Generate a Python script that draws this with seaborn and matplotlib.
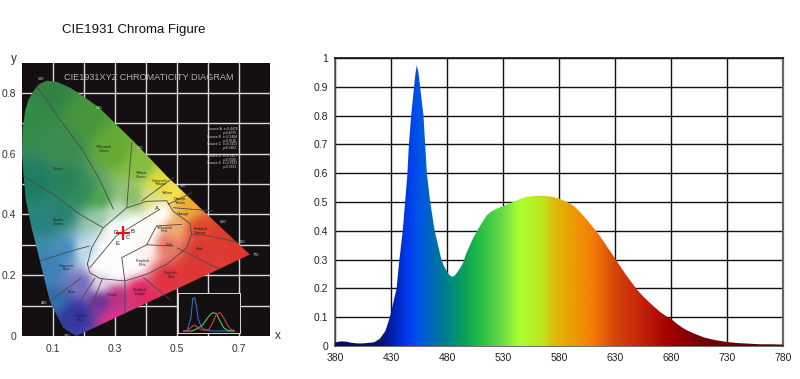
import numpy as np
import pandas as pd
import matplotlib
matplotlib.use("Agg")
import matplotlib.pyplot as plt
from matplotlib.colors import LinearSegmentedColormap
from matplotlib.patches import Polygon
import seaborn as sns

sns.set_style("white")
plt.rcParams['font.family'] = ['Liberation Sans', 'DejaVu Sans']

# ---------- spectrum data ----------
wavelength = [380,385,390,395,400,405,410,415,420,425,429,432,435,437.5,440.5,442.6,444.7,446,448,450.6,451.8,453,454.5,
              456,459,460.5,462,465,469,475,477,480,482,484.7,487,489,492,494.5,497,500.5,503,506.5,510,515.5,520,525,530,539,545,551,558,566,573,580,590,
              595,600,605,610,615,620,625,630,635,640,645,650,655,660,665,670,675,680,685,690,695,700,710,720,730,740,750,760,770,780]
intensity = [.012,.016,.015,.011,.009,.009,.011,.013,.025,.052,.10,.15,.20,.30,.40,.50,.60,.70,.80,.90,.945,.975,.95,
             .90,.80,.70,.60,.50,.40,.30,.28,.258,.247,.24,.245,.255,.272,.29,.32,.35,.372,.397,.42,.454,.468,.478,.486,.50,.51,.518,.521,.522,.519,.512,.495,
             .48,.46,.438,.414,.39,.362,.333,.304,.275,.246,.22,.194,.173,.154,.136,.119,.105,.094,.078,.064,.053,.044,.029,.02,.014,.010,.008,.006,.006,.005]
spectrum_stops = [380,420,430,445,455,470,480,495,510,530,545,565,575,590,610,630,650,680,710,780]
spectrum_colors = ["#0a0a50","#0a146e","#001eaa","#003cf0","#0055e6","#006eaa","#00828c","#0aa05a",
                   "#28be46","#6edc46","#aaff32","#bee61e","#dcbe0a","#eba005","#f57d05","#d7460a",
                   "#c8280a","#a00000","#6e0005","#5a000a"]
x_ticks = [380,430,480,530,580,630,680,730,780]
y_ticks = [0,.1,.2,.3,.4,.5,.6,.7,.8,.9,1]
y_labels = ["0","0.1","0.2","0.3","0.4","0.5","0.6","0.7","0.8","0.9","1"]

# ---------- chromaticity diagram data ----------
locus_x = [.176,.155,.133,.112,.09,.074,.058,.03,.012,.005,0,.002,.01,.02,.037,.055,.08,.115,.155,.2,.25,.30,.36,.467,.574,.735]
locus_y = [0,.012,.027,.068,.115,.18,.247,.36,.45,.53,.6,.68,.74,.775,.806,.828,.84,.835,.817,.787,.75,.70,.64,.526,.422,.268]
anchor_x = [.09,.037,.198,.295,.38,.445,.488,.53,.574,.574,.467,.38,.305,.25,.176,.144,.112,.09,.037,.058,.037,.144,.198,.25,
            .25,.295,.36,.413,.144,.198,.198,.25,.28,.36,.445,.41,.36,.305,.33,.467,.488,.65,.70,.55,.30,.43,.25,.40,.30,.14,.12]
anchor_y = [.795,.72,.72,.61,.554,.5,.477,.42,.345,.28,.19,.148,.126,.115,.07,.06,.104,.225,.5,.367,.30,.5,.466,.444,
            .39,.40,.455,.455,.28,.28,.17,.17,.28,.356,.40,.345,.235,.21,.31,.30,.35,.33,.28,.22,.05,.08,.23,.29,.36,.62,.40]
anchor_c = ["#328246","#328c46","#46963c","#64aa32","#82be3c","#e1dc3c","#f5e146","#f0aa32","#e1462d","#dc3732",
            "#e1323c","#e12864","#be3282","#6e3296","#3232aa","#323ca0","#326eaa","#3c82b9","#1e7d64","#288282",
            "#3c8caa","#28825a","#328c5a","#50a550","#96c8aa","#bedcbe","#8cbe6e","#dce182","#468cbe",
            "#bedceb","#786ebe","#e6d2e6","#ffffff","#ffffff","#ffffff","#ffffff","#ffffff","#ffffff","#ffffff",
            "#e67864","#f0aa6e","#dc3c2d","#dc3732","#dc3732","#e0308c","#e1285a","#ffffff","#fff4f0","#ffffff",
            "#3c8c50","#288272"]
ellipse_x = [.211,.225,.262,.337,.402,.467,.488,.542,.547,.531,.467,.402,.332,.252,.219,.211]
ellipse_y = [.237,.291,.356,.421,.443,.445,.41,.37,.334,.29,.236,.203,.181,.189,.208,.237]
region_lines = [
    ([.047,.12,.198,.252,.295],[.822,.715,.608,.51,.417]),
    ([.004,.101,.187,.262],[.526,.466,.40,.356]),
    ([.058,.16,.217],[.247,.28,.296]),
    ([.09,.19],[.115,.19]),
    ([.133,.235],[.027,.19]),
    ([.2,.26],[.04,.19]),
    ([.322,.332,.332],[.258,.18,.071]),
    ([.354,.338],[.636,.422]),
    ([.488,.386],[.521,.444]),
    ([.547,.472],[.471,.433]),
    ([.617,.488],[.411,.422]),
    ([.703,.6,.547],[.307,.33,.334]),
    ([.639,.5],[.219,.29]),
    ([.477,.392],[.12,.192]),
    ([.322,.402,.488],[.258,.30,.296]),
    ([.402,.434,.515],[.30,.362,.367]),
    ([.219,.305,.445],[.225,.33,.417]),
]
region_labels = [("Green",.115,.55),("Yellowish\nGreen",.265,.615),("Bluish\nGreen",.115,.375),
                 ("Yellow\nGreen",.385,.53),("Greenish\nYellow",.445,.505),("Yellow",.47,.47),
                 ("Orange\nYellow",.51,.445),("Orange",.52,.40),("Reddish\nOrange",.575,.345),
                 ("Yellowish\nPink",.46,.35),("Pink",.475,.30),("Red",.57,.285),("Purplish\nPink",.39,.24),
                 ("Purplish\nRed",.48,.20),("Reddish\nPurple",.38,.145),("Purple",.29,.135),
                 ("Greenish\nBlue",.145,.225),("Blue",.16,.145),("Purplish\nBlue",.19,.06)]
wave_labels = [("520",.062,.845),("540",.25,.75),("560",.38,.62),("580",.52,.495),("600",.65,.375),
               ("620",.71,.31),("770",.755,.265),("490",.07,.11),("380",.145,0)]
source_text = ["Source A  x=0.4476","y=0.4075","Source B  x=0.3484","y=0.3516","Source C  x=0.3101",
               "y=0.3162","","Source D  x=0.3457","y=0.3585","Source E  x=0.3333","y=0.3333"]
point_labels = [("A",.435,.42),("B",.357,.345),("C",.34,.325),("D",.302,.34),("E",.307,.305)]
white_x = [.1,.2,.3,.4,.5,.6,.7]
white_y = [.1,.2,.3,.4,.5,.6,.7,.8]
left_x_ticks = [.1,.3,.5,.7]
left_y_ticks = [0,.2,.4,.6,.8]
white_point = (.325,.34)
inset_wave = [400,420,440,450,460,470,480,500,520,540,560,580,600,620,640,660,680]
inset_blue = [0,.02,.4,.97,1,.75,.35,.1,.03,.01,0,0,0,0,0,0,0]
inset_green = [0,0,0,.01,.03,.06,.1,.15,.3,.45,.55,.52,.3,.1,.02,0,0]
inset_red = [0,.02,.1,.15,.17,.14,.08,.03,.02,.05,.25,.5,.55,.4,.18,.05,.01]

# ---------- figure ----------
fig = plt.figure(figsize=(8,3.79), dpi=100)
fig.patch.set_facecolor("white")
fig.text(133.5/800, 1-30.5/379, "CIE1931 Chroma Figure", ha="center", va="center", fontsize=9.5, color="#111111")

# --- left panel
ax = fig.add_axes([22/800, 1-336/379, 248/800, 273/379])
ax.set_facecolor("#141011")
ax.set_xlim(0,.8); ax.set_ylim(0,.898)
for v in white_x:
    ax.axvline(v, color="#d8d8d8", lw=1, zorder=1)
for v in white_y:
    ax.axhline(v, color="#d8d8d8", lw=1, zorder=1)
gx, gy = np.meshgrid(np.linspace(0,.8,320), np.linspace(0,.898,340))
ax_ = np.array(anchor_x); ay_ = np.array(anchor_y)
rgb = np.array([matplotlib.colors.to_rgb(c) for c in anchor_c])
d = (gx[...,None]-ax_)**2 + (gy[...,None]-ay_)**2 + 1e-4
w = d**-2.0
img = (w[...,None]*rgb).sum(axis=2)/w.sum(axis=2,keepdims=True)
kernel = np.hanning(21); kernel /= kernel.sum()
for axis in (0, 1):
    pad = [(0,0)]*3; pad[axis] = (10,10)
    padded = np.pad(img, pad, mode="edge")
    img = np.apply_along_axis(lambda v: np.convolve(v, kernel, mode="valid"), axis, padded)
im = ax.imshow(img, origin="lower", extent=(0,.8,0,.898), aspect="auto", zorder=2, interpolation="bilinear")
poly = Polygon(np.column_stack([locus_x,locus_y]), closed=True, transform=ax.transData, fc="none", ec="none")
ax.add_patch(poly)
im.set_clip_path(poly)
ax.set_xlim(0,.8); ax.set_ylim(0,.898)
line_col = "#4a4a4a"
ax.plot(ellipse_x, ellipse_y, color=line_col, lw=.6, zorder=3)
for lx, ly in region_lines:
    ax.plot(lx, ly, color=line_col, lw=.6, zorder=3)
for s, x, y in region_labels:
    ax.text(x, y, s, fontsize=2.8, ha="center", va="center", color="#202020", zorder=4, linespacing=.9)
for s, x, y in wave_labels:
    ax.text(x, y, s, fontsize=2.8, ha="center", va="center", color="#dddddd", zorder=4)
for i, s in enumerate(source_text):
    ax.text(.695, .68-i*.0125, s, fontsize=2.4, ha="right", va="center", color="#dddddd", zorder=4)
for s, x, y in point_labels:
    ax.text(x, y, s, fontsize=4.2, ha="center", va="center", color="#111111", zorder=4)
ax.text(.41,.85,"CIE1931XYZ CHROMATICITY DIAGRAM", fontsize=6.6, color="#b0b0b0", ha="center", va="center", zorder=4)
ax.plot([white_point[0]],[white_point[1]], marker="+", ms=10, mew=1.6, color="#e8121c", zorder=5)
ax.set_xticks(left_x_ticks); ax.set_xticklabels([f"{v:g}" for v in left_x_ticks])
ax.set_yticks(left_y_ticks); ax.set_yticklabels([f"{v:g}" for v in left_y_ticks])
ax.tick_params(length=0, labelsize=7.5, labelcolor="#333333", pad=4)
ax.tick_params(axis="x", pad=6)
sns.despine(ax=ax, left=True, bottom=True)
ax.text(-.026,.91,"y",fontsize=8.5,color="#333333",ha="center",va="center",clip_on=False)
ax.text(.825,0,"x",fontsize=8.5,color="#333333",ha="center",va="center",clip_on=False)

ins = ax.inset_axes([.504,.011,.199,.132], transform=ax.transData)
ins.set_facecolor("#141011")
sns.lineplot(x=inset_wave, y=inset_blue, ax=ins, color="#2a6fd0", lw=.8)
sns.lineplot(x=inset_wave, y=inset_green, ax=ins, color="#50c850", lw=.8)
sns.lineplot(x=inset_wave, y=inset_red, ax=ins, color="#d83a30", lw=.8)
ins.set_xlim(370,710); ins.set_ylim(-.05,1.15)
ins.set_xticks([]); ins.set_yticks([])
for s in ins.spines.values():
    s.set_color("#d8d8d8"); s.set_linewidth(.7)
ins.set_zorder(6)

# --- right panel
rx = fig.add_axes([335/800, 1-346/379, 448/800, 288/379])
rx.set_xlim(380,780); rx.set_ylim(0,1)
rx.set_xticks(x_ticks); rx.set_yticks(y_ticks); rx.set_yticklabels(y_labels)
rx.grid(True, color="#111111", lw=1)
rx.set_axisbelow(True)
cmap = LinearSegmentedColormap.from_list("spec", [((s-380)/400, c) for s, c in zip(spectrum_stops, spectrum_colors)], N=512)
grad = rx.imshow(np.linspace(0,1,800)[None,:], cmap=cmap, extent=(380,780,0,1), aspect="auto", zorder=3, vmin=0, vmax=1)
clip = Polygon(np.column_stack([[380]+wavelength+[780],[0]+intensity+[0]]), closed=True, transform=rx.transData, fc="none", ec="none")
rx.add_patch(clip)
grad.set_clip_path(clip)
curve = pd.DataFrame({"wavelength": wavelength, "intensity": intensity})
sns.lineplot(data=curve, x="wavelength", y="intensity", ax=rx, color="none", lw=0)
rx.set_xlabel(""); rx.set_ylabel("")
rx.set_xlim(380,780); rx.set_ylim(0,1)
rx.tick_params(length=0, labelsize=7.5, labelcolor="#222222", pad=5)
for n, s in rx.spines.items():
    s.set_color("#555555"); s.set_linewidth(1.2)
rx.spines["top"].set_color("#111111")
rx.spines["right"].set_linewidth(1.6)
rx.spines["right"].set_color("#666666")

fig.savefig("out.png", dpi=100)
